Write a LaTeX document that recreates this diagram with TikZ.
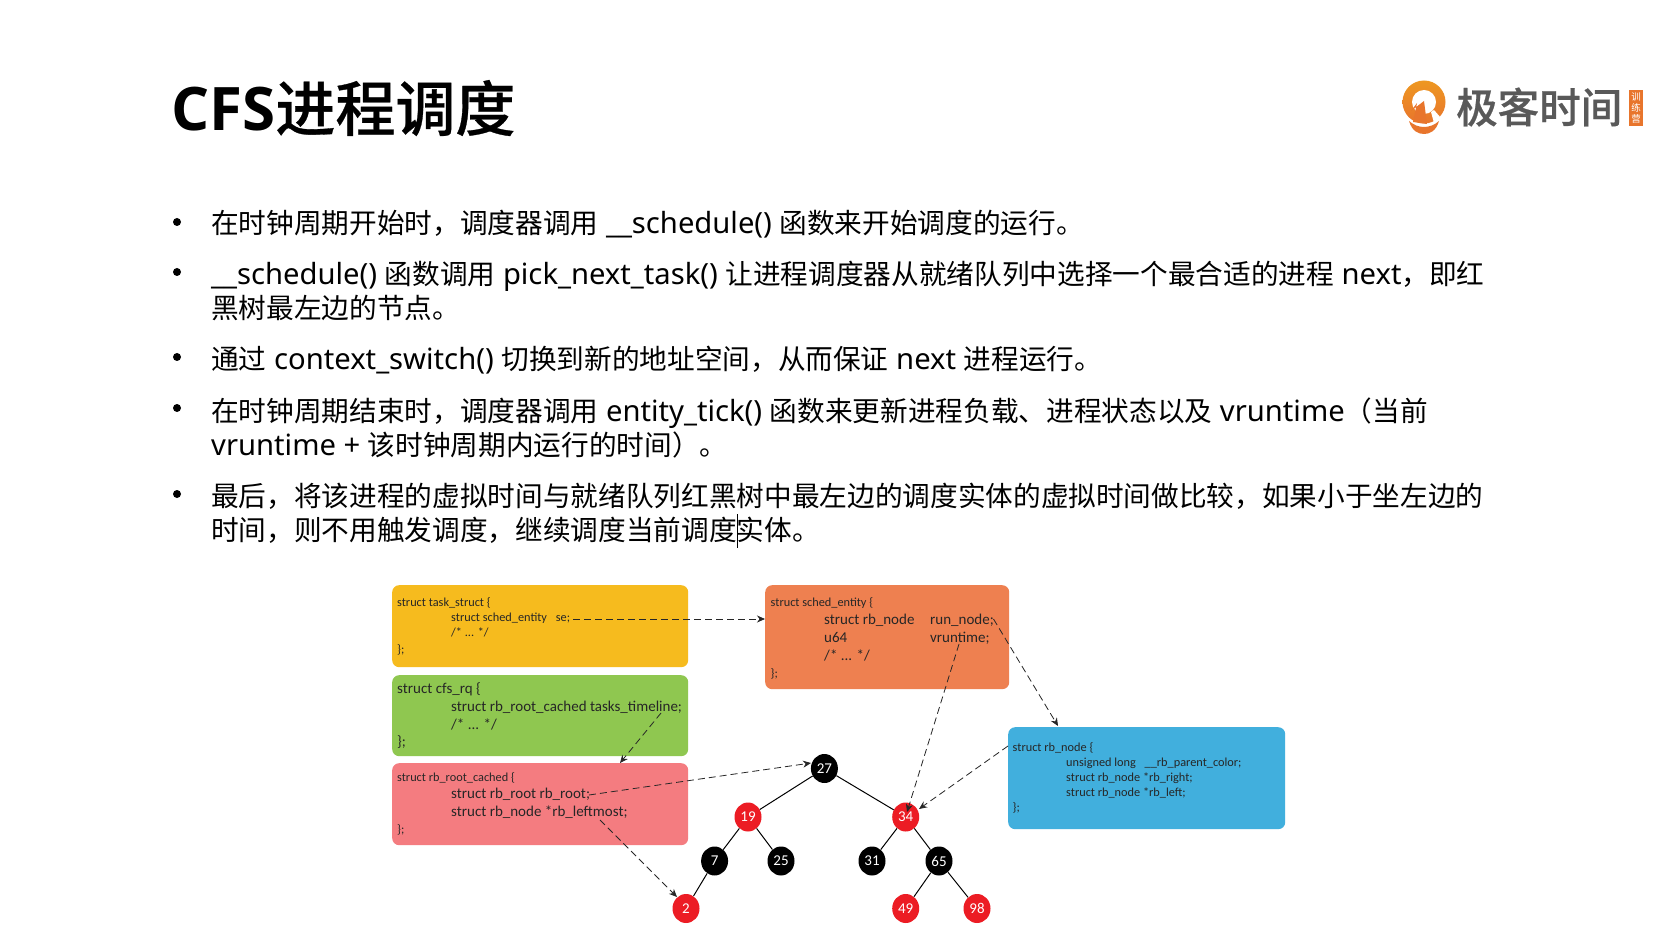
\documentclass[tikz,border=0pt]{standalone}
\usepackage{fontspec}
\setmainfont{Noto Sans}
\newfontfamily\latbold{Open Sans}
\newfontfamily\cjk{Noto Sans CJK SC}
\newfontfamily\cjkmed{Noto Sans CJK SC Medium}[FakeBold=0.5]
\newfontfamily\codefont{Carlito}
\usetikzlibrary{arrows.meta,shapes.geometric}
\definecolor{cyellow}{HTML}{F6BB1E}
\definecolor{cgreen}{HTML}{8FC750}
\definecolor{cpink}{HTML}{F47C80}
\definecolor{corange}{HTML}{EE8050}
\definecolor{cblue}{HTML}{41AFDD}
\definecolor{cred}{HTML}{EC1C24}
\definecolor{logoor}{HTML}{E8752C}
\tikzset{
 box/.style={fill=#1,rounded corners=7pt,inner sep=0pt,anchor=north west},
 small/.style={anchor=base west,inner sep=0pt,font=\codefont\fontsize{12.3}{13}\selectfont,text=black!85},
 large/.style={anchor=base west,inner sep=0pt,font=\codefont\fontsize{15}{16}\selectfont,text=black!85},
 body/.style={anchor=base west,inner sep=0pt,font=\fontsize{29.2}{32}\selectfont,text=black},
 dot/.style={circle,fill=black,inner sep=0pt,minimum size=8pt},
 rbb/.style={ellipse,fill=black,text=white,inner sep=0pt,minimum width=27pt,minimum height=29pt,font=\codefont\fontsize{15}{15}\selectfont},
 rbr/.style={rbb,fill=cred},
 edge/.style={draw=black,line width=1pt},
 ptr/.style={draw=black!85,line width=0.8pt,dash pattern=on 7pt off 4pt,-{Stealth[length=8pt,width=7pt]}},
}
\newcommand{\cn}[1]{{\cjk\fontsize{27.66}{32}\selectfont #1}}
\begin{document}
\begin{tikzpicture}[x=1pt,y=-1pt]
\useasboundingbox (0,0) rectangle (1678,949);
\fill[white] (0,0) rectangle (1678,949);
% title
\node[anchor=base west,inner sep=0pt,font=\latbold\bfseries\fontsize{60}{64}\selectfont] (title) at (171,131) {CFS{\cjkmed\mdseries\fontsize{60}{64}\selectfont 进程调度}};
% logo
\shade[top color=logoor!75!yellow,bottom color=logoor] (1424,102) circle (21.5);
\fill[logoor] (1409,121) .. controls (1418,129) and (1430,129) .. (1439,121) .. controls (1436,131) and (1430,134) .. (1424,134) .. controls (1418,134) and (1412,131) .. (1409,121) -- cycle;
\fill[white] (1424,102) circle (12);
\fill[logoor] (1424,101) -- (1427,124) -- (1413,122) -- (1417,103) -- (1411,111) -- cycle;
\fill[white] (1431,112) -- (1434,110) -- (1441,118) -- (1434,123) -- cycle;
\node[anchor=base west,inner sep=0pt,text=black!65,font=\cjkmed\fontsize{41.5}{42}\selectfont] (logotext) at (1456,123) {极客时间};
\node[anchor=north west,fill=logoor,text=white,minimum width=14pt,minimum height=36pt,inner sep=0pt,align=center,font=\cjk\fontsize{9.5}{11}\selectfont] (logotag) at (1629,90) {训\\练\\营};
% bullets
\node[dot] (b1) at (177,222) {};
\node[dot] (b2) at (177,272) {};
\node[dot] (b3) at (177,357) {};
\node[dot] (b4) at (177,408) {};
\node[dot] (b5) at (177,494) {};
% body
\node[body] (l1) at (211,234) {\cn{在时钟周期开始时，调度器调用} \_\_schedule() \cn{函数来开始调度的运行。}};
\node[body] (l2) at (211,285) {\_\_schedule() \cn{函数调用} pick\_next\_task() \cn{让进程调度器从就绪队列中选择一个最合适的进程} next\cn{，即红}};
\node[body] (l3) at (211,319) {\cn{黑树最左边的节点。}};
\node[body] (l4) at (211,370) {\cn{通过} context\_switch() \cn{切换到新的地址空间，从而保证} next \cn{进程运行。}};
\node[body] (l5) at (211,421) {\cn{在时钟周期结束时，调度器调用} entity\_tick() \cn{函数来更新进程负载、进程状态以及} vruntime\cn{（当前}};
\node[body] (l6) at (211,455) {vruntime + \cn{该时钟周期内运行的时间）。}};
\node[body] (l7) at (211,506.5) {\cn{最后，将该进程的虚拟时间与就绪队列红黑树中最左边的调度实体的虚拟时间做比较，如果小于坐左边的}};
\node[body] (l8) at (211,540) {\cn{时间，则不用触发调度，继续调度当前调度实体。}};
\draw[black,line width=0.6pt] (737,514) -- (737,548);
% boxes
\node[box=cyellow,minimum width=296pt,minimum height=82pt] (task) at (392,585) {};
\node[box=cgreen,minimum width=296pt,minimum height=81pt] (cfs) at (392,675) {};
\node[box=cpink,minimum width=296pt,minimum height=82pt] (root) at (392,763) {};
\node[box=corange,minimum width=244pt,minimum height=104pt] (sched) at (765,585) {};
\node[box=cblue,minimum width=277pt,minimum height=102pt] (rbn) at (1008,727) {};
% code text
\node[small] (t1) at (397,606) {struct task\_struct \{};
\node[small] (t2) at (451,621) {struct sched\_entity\hspace{6pt} se;};
\node[small] (t3) at (451,636) {/* ... */};
\node[small] (t4) at (397,653) {\};};
\node[large] (g1) at (397,693) {struct cfs\_rq \{};
\node[large] (g2) at (451,711) {struct rb\_root\_cached tasks\_timeline;};
\node[large] (g3) at (451,729) {/* ... */};
\node[large] (g4) at (397,746) {\};};
\node[small] (p1) at (397,781) {struct rb\_root\_cached \{};
\node[large] (p2) at (451,798) {struct rb\_root rb\_root;};
\node[large] (p3) at (451,816) {struct rb\_node *rb\_leftmost;};
\node[small] (p4) at (397,833) {\};};
\node[small] (o1) at (770.5,606) {struct sched\_entity \{};
\node[large] (o2) at (824,624) {struct rb\_node};
\node[large] (o2b) at (930,624) {run\_node;};
\node[large] (o3) at (824,642) {u64};
\node[large] (o3b) at (930,642) {vruntime;};
\node[large] (o4) at (824,660) {/* ... */};
\node[small] (o5) at (770.5,677) {\};};
\node[small] (n1) at (1012.5,751) {struct rb\_node \{};
\node[small] (n2) at (1066,766) {unsigned long\hspace{6pt} \_\_rb\_parent\_color;};
\node[small] (n3) at (1066,781) {struct rb\_node *rb\_right;};
\node[small] (n4) at (1066,796) {struct rb\_node *rb\_left;};
\node[small] (n5) at (1012.5,811) {\};};
% tree
\node[rbb] (n27) at (824.4,768.5) {27};
\node[rbr] (n19) at (748,817) {19};
\node[rbr] (n34) at (905.7,817) {34};
\node[rbb] (n7) at (714.6,861) {7};
\node[rbb] (n25) at (781,861) {25};
\node[rbb] (n31) at (872,861) {31};
\node[rbb] (n65) at (939,861) {65};
\node[rbr] (n2n) at (686,908.5) {2};
\node[rbr] (n49) at (905.7,908.5) {49};
\node[rbr] (n98) at (977,908.5) {98};
\foreach \a/\b in {n27/n19,n27/n34,n19/n7,n19/n25,n34/n31,n34/n65,n7/n2n,n65/n49,n65/n98}
  \draw[edge] (\a) -- (\b);
% pointers
\coordinate (s1) at (573,619);
\coordinate (e1) at (765,619);
\coordinate (s2) at (661,713);
\coordinate (e2) at (620,763);
\coordinate (s3) at (589,795);
\coordinate (e3) at (811,763);
\coordinate (s4) at (600,820);
\coordinate (e4) at (677,897);
\coordinate (s5) at (993.5,619);
\coordinate (e5) at (1058,726);
\coordinate (s6) at (959,644);
\coordinate (e6) at (907,812);
\coordinate (s7) at (1008,746);
\coordinate (e7) at (919,809);
\foreach \i in {1,...,7} \draw[ptr] (s\i) -- (e\i);
\end{tikzpicture}
\end{document}
